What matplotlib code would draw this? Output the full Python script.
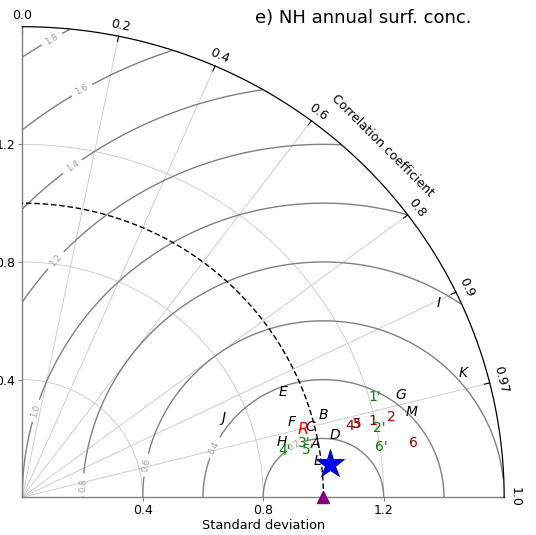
import numpy as np
import matplotlib.pyplot as plt

# normalised standard deviation and correlation with observations
letters = ['A', 'B', 'C', 'D', 'E', 'F', 'G', 'H', 'I', 'J', 'K', 'L', 'M']
letters_std = [0.989, 1.037, 0.985, 1.059, 0.938, 0.930, 1.304, 0.881, 1.531, 0.719, 1.524, 0.988, 1.325]
letters_corr = [0.983, 0.963, 0.970, 0.980, 0.924, 0.961, 0.964, 0.977, 0.902, 0.927, 0.961, 0.992, 0.976]

runs = ['1', '2', '3', '4', '5', '6']
runs_std = [1.191, 1.256, 1.137, 1.115, 1.141, 1.312]
runs_corr = [0.976, 0.976, 0.976, 0.976, 0.976, 0.990]

runs_p = ["1'", "2'", "3'", "4'", "5'", "6'"]
runs_p_std = [1.220, 1.210, 0.956, 0.886, 0.963, 1.205]
runs_p_corr = [0.960, 0.981, 0.981, 0.984, 0.986, 0.990]

r_std, r_corr = 0.961, 0.971        # red R
ens_std, ens_corr = 1.027, 0.994    # ensemble mean (star)
ref_std = 1.0

smax = 1.6
std_ticks = [0.4, 0.8, 1.2]
corr_grid = [0.2, 0.4, 0.6, 0.8, 0.9, 0.97]
corr_ticks = [0.0, 0.2, 0.4, 0.6, 0.8, 0.9, 0.97, 1.0]
corr_labels = ['0.0', '0.2', '0.4', '0.6', '0.8', '0.9', '0.97', '1.0']
rms_levels = [0.2, 0.4, 0.6, 0.8, 1.0, 1.2, 1.4, 1.6, 1.8]
rms_label_pos = [(0.899, 0.184), (0.633, 0.171), (0.407, 0.110), (0.198, 0.042),
                 (0.036, 0.297), (0.102, 0.814), (0.158, 1.137), (0.192, 1.396),
                 (0.092, 1.569)]


def to_xy(s, c):
    s = np.asarray(s, dtype=float)
    c = np.asarray(c, dtype=float)
    return s * c, s * np.sqrt(1 - c**2)


fig = plt.figure(figsize=(5.36, 5.35), dpi=100)
ax = fig.add_axes([0.0416, 0.0705, 0.899, 0.8796])
ax.set_xlim(0, smax)
ax.set_ylim(0, smax)

for side in ['top', 'right']:
    ax.spines[side].set_visible(False)
for side in ['left', 'bottom']:
    ax.spines[side].set_color('0.5')
    ax.spines[side].set_linewidth(1.0)
ax.set_xticks(std_ticks)
ax.set_yticks(std_ticks)
ax.set_xticklabels(['%.1f' % v for v in std_ticks])
ax.set_yticklabels(['%.1f' % v for v in std_ticks])
ax.tick_params(length=3, width=0.8, color='0.5', labelsize=9, pad=2)
ax.set_xlabel('Standard deviation', fontsize=9.3, labelpad=1)

th = np.linspace(0, np.pi / 2, 300)

# std dev arcs and correlation rays
for s in std_ticks:
    ax.plot(s * np.cos(th), s * np.sin(th), color='0.78', lw=0.6, zorder=1)
for c in corr_grid:
    x, y = to_xy(smax, c)
    ax.plot([0, x], [0, y], color='0.78', lw=0.6, zorder=1)

# centred RMS difference contours
gx = np.linspace(0, smax, 500)
X, Y = np.meshgrid(gx, gx)
rms = np.hypot(X - ref_std, Y)
rms[np.hypot(X, Y) > smax] = np.nan
cs = ax.contour(X, Y, rms, levels=rms_levels, colors='0.5', linewidths=1.0, zorder=2)
ax.clabel(cs, inline=True, fontsize=6, fmt='%.1f', colors='0.6', manual=rms_label_pos)

# reference arc and outer frame
ax.plot(ref_std * np.cos(th), ref_std * np.sin(th), 'k--', lw=1.0, dashes=(4, 2), zorder=3)
ax.plot(smax * np.cos(th), smax * np.sin(th), 'k-', lw=0.9, clip_on=False, zorder=3)

# correlation ticks (pointing inward) and labels
for c, lab in zip(corr_ticks, corr_labels):
    ang = np.arccos(c)
    x0, y0 = to_xy(smax, c)
    x1, y1 = to_xy(smax - 0.018, c)
    ax.plot([x0, x1], [y0, y1], 'k-', lw=0.8, clip_on=False)
    xt, yt = to_xy(smax + 0.038, c)
    ax.text(xt, yt, lab, fontsize=9, rotation=np.degrees(ang) - 90,
            ha='center', va='center', rotation_mode='anchor')
xt, yt = to_xy(smax + 0.09, np.cos(np.radians(45)))
ax.text(xt, yt, 'Correlation coefficient', fontsize=9, rotation=-45,
        ha='center', va='center', rotation_mode='anchor')

# models
x, y = to_xy(letters_std, letters_corr)
for n, xi, yi in zip(letters, x, y):
    ax.text(xi, yi, n, color='k', style='italic', fontsize=10,
            ha='center', va='center', zorder=5)
x, y = to_xy(runs_std, runs_corr)
for n, xi, yi in zip(runs, x, y):
    ax.text(xi, yi, n, color='darkred', fontsize=10,
            ha='center', va='center', zorder=5)
x, y = to_xy(runs_p_std, runs_p_corr)
for n, xi, yi in zip(runs_p, x, y):
    ax.text(xi, yi, n, color='green', fontsize=10,
            ha='center', va='center', zorder=5)
x, y = to_xy(r_std, r_corr)
ax.text(x, y, 'R', color='red', style='italic', fontsize=11.5,
        ha='center', va='center', zorder=5)

x, y = to_xy(ens_std, ens_corr)
ax.plot(x, y, marker='*', ms=21, color='blue', mec='navy', mew=0.6, zorder=6)
ax.plot(ref_std, 0, marker='^', ms=9, color='purple', clip_on=False, zorder=6)

fig.text(0.677, 0.966, 'e) NH annual surf. conc.', fontsize=13, ha='center', va='center')

fig.savefig('out.png', dpi=100)
